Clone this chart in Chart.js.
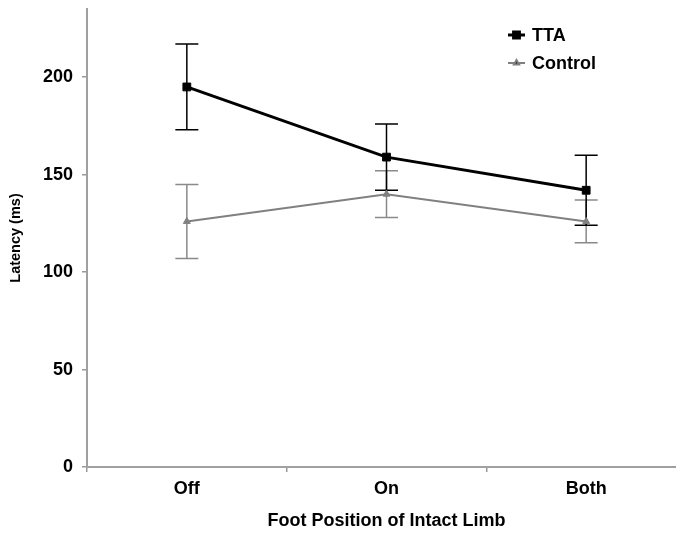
<!DOCTYPE html>
<html>
<head>
<meta charset="utf-8">
<script src="https://cdn.jsdelivr.net/npm/chart.js@4"></script>
<style>
  html, body { margin: 0; padding: 0; background: #fff; overflow: hidden; }
  #wrap { width: 700px; height: 534px; }
</style>
</head>
<body>
<div id="wrap"><canvas id="myChart" width="700" height="534"></canvas></div>
<script>
var categories = ['Off', 'On', 'Both'];
var ttaMeans = [195, 159, 142];
var ttaErrors = [22, 17, 18];
var controlMeans = [126, 140, 126];
var controlErrors = [19, 12, 11];
var yMin = 0, yMax = 235, yStep = 50;

var FONT = "'Liberation Sans', Arial, sans-serif";

// vertical error bars with caps, drawn from each dataset's "errors" array
var errorBars = {
  id: 'errorBars',
  beforeDatasetsDraw: function(chart) {
    var ctx = chart.ctx;
    var y = chart.scales.y;
    for (var d = chart.data.datasets.length - 1; d >= 0; d--) {
      var ds = chart.data.datasets[d];
      var meta = chart.getDatasetMeta(d);
      ctx.save();
      ctx.strokeStyle = ds.errorColor;
      ctx.lineWidth = 1.5;
      meta.data.forEach(function(pt, i) {
        var top = y.getPixelForValue(ds.data[i] + ds.errors[i]);
        var bot = y.getPixelForValue(ds.data[i] - ds.errors[i]);
        ctx.beginPath();
        ctx.moveTo(pt.x, top); ctx.lineTo(pt.x, bot);
        ctx.moveTo(pt.x - 11.5, top); ctx.lineTo(pt.x + 11.5, top);
        ctx.moveTo(pt.x - 11.5, bot); ctx.lineTo(pt.x + 11.5, bot);
        ctx.stroke();
      });
      ctx.restore();
    }
  }
};

// legend in the top right: short line + marker + label
var lineLegend = {
  id: 'lineLegend',
  afterDraw: function(chart) {
    var ctx = chart.ctx;
    chart.data.datasets.forEach(function(ds, i) {
      var ly = 35 + i * 28;
      ctx.save();
      ctx.strokeStyle = ds.borderColor;
      ctx.lineWidth = ds.borderWidth;
      ctx.beginPath();
      ctx.moveTo(508, ly); ctx.lineTo(525, ly);
      ctx.stroke();
      Chart.helpers.drawPoint(ctx, {
        pointStyle: ds.pointStyle, radius: ds.pointRadius * 0.75, borderWidth: 1
      }, 516.5, ly);
      ctx.fillStyle = '#000';
      ctx.font = 'bold 18px ' + FONT;
      ctx.textBaseline = 'middle';
      ctx.fillText(ds.label, 532, ly + 1);
      ctx.restore();
    });
  }
};

var ctx = document.getElementById('myChart').getContext('2d');
var myChart = new Chart(ctx, {
  type: 'line',
  data: {
    labels: categories,
    datasets: [{
      label: 'TTA',
      data: ttaMeans,
      errors: ttaErrors,
      errorColor: '#000000',
      borderColor: '#000000',
      backgroundColor: '#000000',
      borderWidth: 3,
      pointStyle: 'rect',
      pointRadius: 5.5,
      pointBorderWidth: 1
    }, {
      label: 'Control',
      data: controlMeans,
      errors: controlErrors,
      errorColor: '#8a8a8a',
      borderColor: '#808080',
      backgroundColor: '#808080',
      borderWidth: 2,
      pointStyle: 'triangle',
      pointRadius: 4,
      pointBorderWidth: 1
    }]
  },
  options: {
    responsive: false,
    animation: false,
    layout: { padding: { top: 9, right: 14, bottom: 0, left: 0 } },
    plugins: {
      legend: { display: false },
      tooltip: { enabled: false }
    },
    scales: {
      x: {
        offset: true,
        grid: { offset: true, drawOnChartArea: false, tickLength: 5, color: '#999', lineWidth: 1.5 },
        border: { color: '#a0a0a0', width: 2 },
        ticks: { color: '#000', padding: 6, font: { family: FONT, size: 18, weight: 'bold' } },
        title: {
          display: true,
          text: 'Foot Position of Intact Limb',
          color: '#000',
          padding: { top: 0, bottom: 2 },
          font: { family: FONT, size: 18, weight: 'bold' }
        },
        afterFit: function(scale) { scale.height = 67; }
      },
      y: {
        min: yMin,
        max: yMax,
        grid: { drawOnChartArea: false, tickLength: 5, color: '#999', lineWidth: 1.5 },
        border: { color: '#a0a0a0', width: 2 },
        ticks: {
          stepSize: yStep,
          includeBounds: false,
          color: '#000',
          padding: 9,
          font: { family: FONT, size: 18, weight: 'bold' }
        },
        title: {
          display: true,
          text: 'Latency (ms)',
          color: '#000',
          padding: { top: 7, bottom: 0 },
          font: { family: FONT, size: 14.5, weight: 'bold' }
        },
        afterFit: function(scale) {
          scale.width = 87;
          scale.paddingTop = 0;
          scale.paddingBottom = 0;
        }
      }
    }
  },
  plugins: [errorBars, lineLegend]
});
</script>
</body>
</html>
